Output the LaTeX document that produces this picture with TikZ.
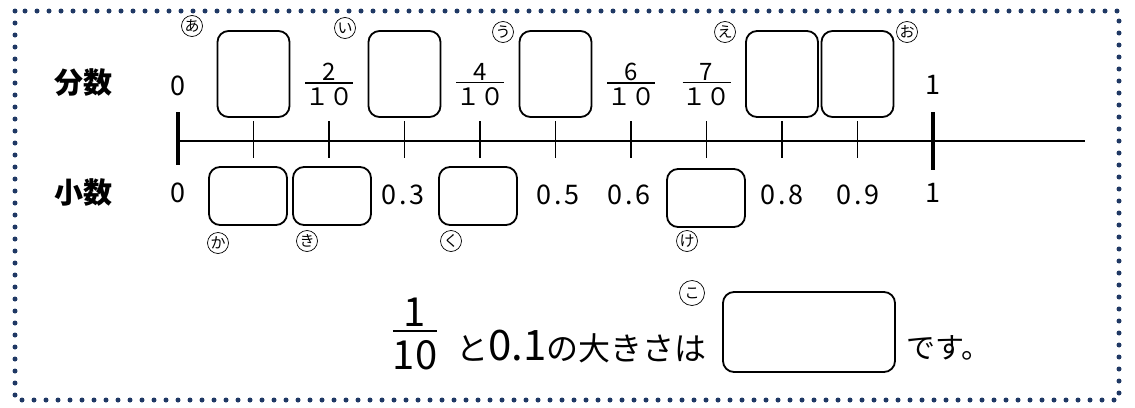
\documentclass[tikz,border=0pt]{standalone}
\usepackage{fontspec}
\setmainfont{Noto Sans CJK JP}
\usepackage{xcolor}
\definecolor{framenavy}{HTML}{1F3864}
\setlength\arrayrulewidth{1.8pt}
\newcommand\tenths[1]{\begin{tabular}{@{}c@{}}#1\\[-6pt]\hline\rule{0pt}{22pt}１０\end{tabular}}

\begin{document}
\begin{tikzpicture}[x=1pt,y=-1pt,
    ansbox/.style={draw, line width=1.8pt, rounded corners=11pt, minimum width=72pt, minimum height=86pt, inner sep=0pt},
    lowbox/.style={ansbox, minimum width=78pt, minimum height=58pt},
    kana/.style={draw, circle, line width=0.7pt, inner sep=0pt, minimum size=21pt, font=\fontsize{15}{15}\selectfont},
    num/.style={font=\fontsize{27}{27}\selectfont},
    frac/.style={font=\fontsize{24}{24}\selectfont, inner sep=0pt},
    dec/.style={font=\fontsize{27}{27}\selectfont\addfontfeature{LetterSpace=10}},
    head/.style={font=\fontsize{29}{29}\selectfont\bfseries},
    tickmark/.style={line width=1.8pt},
    endmark/.style={line width=3.8pt}]
    \def\xo{178}
    \def\u{75.5}
    \def\ya{141}
    \useasboundingbox (0,0) rectangle (1135,407);
    % frame
    \draw[framenavy, line width=5pt, line cap=round, dash pattern=on 0pt off 12pt] (15,11) rectangle (1119,400);
    % number line
    \coordinate (zero) at (\xo,\ya);
    \coordinate (tail) at (1085,\ya);
    \draw[line width=1.8pt] (zero) -- (tail);
    \draw[endmark] (\xo,112) -- (\xo,165);
    \draw[endmark] (\xo+10*\u,112) -- (\xo+10*\u,170);
    \foreach \i in {1,...,9}
        \draw[tickmark] (\xo+\i*\u,121) -- (\xo+\i*\u,158);
    % row labels
    \node[head] at (83,83) (fracrow) {分数};
    \node[head] at (83,193) (decrow) {小数};
    % fractions
    \node[num] at (\xo,86) (f0) {0};
    \node[frac] at (\xo+2*\u,88) (f2) {\tenths{2}};
    \node[frac] at (\xo+4*\u,88) (f4) {\tenths{4}};
    \node[frac] at (\xo+6*\u,88) (f6) {\tenths{6}};
    \node[frac] at (\xo+7*\u,88) (f7) {\tenths{7}};
    \node[num] at (\xo+10*\u,85) (f10) {1};
    \node[ansbox] at (\xo+1*\u,74) (ba) {};
    \node[ansbox] at (\xo+3*\u,74) (bi) {};
    \node[ansbox] at (\xo+5*\u,74) (bu) {};
    \node[ansbox] at (\xo+8*\u,74) (be) {};
    \node[ansbox] at (\xo+9*\u,74) (bo) {};
    \node[kana] at (192,26) (ka) {あ};
    \node[kana] at (345,28) (ki) {い};
    \node[kana] at (503,32) (ku) {う};
    \node[kana] at (725,32) (ke) {え};
    \node[kana] at (907,32) (ko) {お};
    % decimals
    \node[num] at (\xo,193) (d0) {0};
    \node[dec] at (403,195) (d3) {0.3};
    \node[dec] at (558,195) (d5) {0.5};
    \node[dec] at (629,195) (d6) {0.6};
    \node[dec] at (782,195) (d8) {0.8};
    \node[dec] at (858,195) (d9) {0.9};
    \node[num] at (\xo+10*\u,193) (d10) {1};
    \node[lowbox] at (248,196) (bka) {};
    \node[lowbox] at (332,196) (bki) {};
    \node[lowbox] at (478,196) (bku) {};
    \node[lowbox] at (706,198) (bke) {};
    \node[kana] at (218,243) (kka) {か};
    \node[kana] at (307,241) (kki) {き};
    \node[kana] at (451,241) (kku) {く};
    \node[kana] at (687,241) (kke) {け};
    % sentence
    \node[font=\fontsize{40}{40}\selectfont, inner sep=0pt] at (415,340) (one) {\setlength\arrayrulewidth{2pt}\begin{tabular}{@{}c@{}}1\\[-9pt]\hline\rule{0pt}{38pt}10\end{tabular}};
    \node[anchor=base west, inner sep=0pt, font=\fontsize{32}{32}\selectfont] at (456,360) (say) {と{\fontsize{42}{42}\selectfont 0.1}の大きさは};
    \node[ansbox, minimum width=172pt, minimum height=80pt] at (809,332) (bko) {};
    \node[kana, minimum size=25pt] at (692,293) (kko) {こ};
    \node[anchor=base west, inner sep=0pt, font=\fontsize{29}{29}\selectfont] at (906,358) (end) {です。};
\end{tikzpicture}
\end{document}
